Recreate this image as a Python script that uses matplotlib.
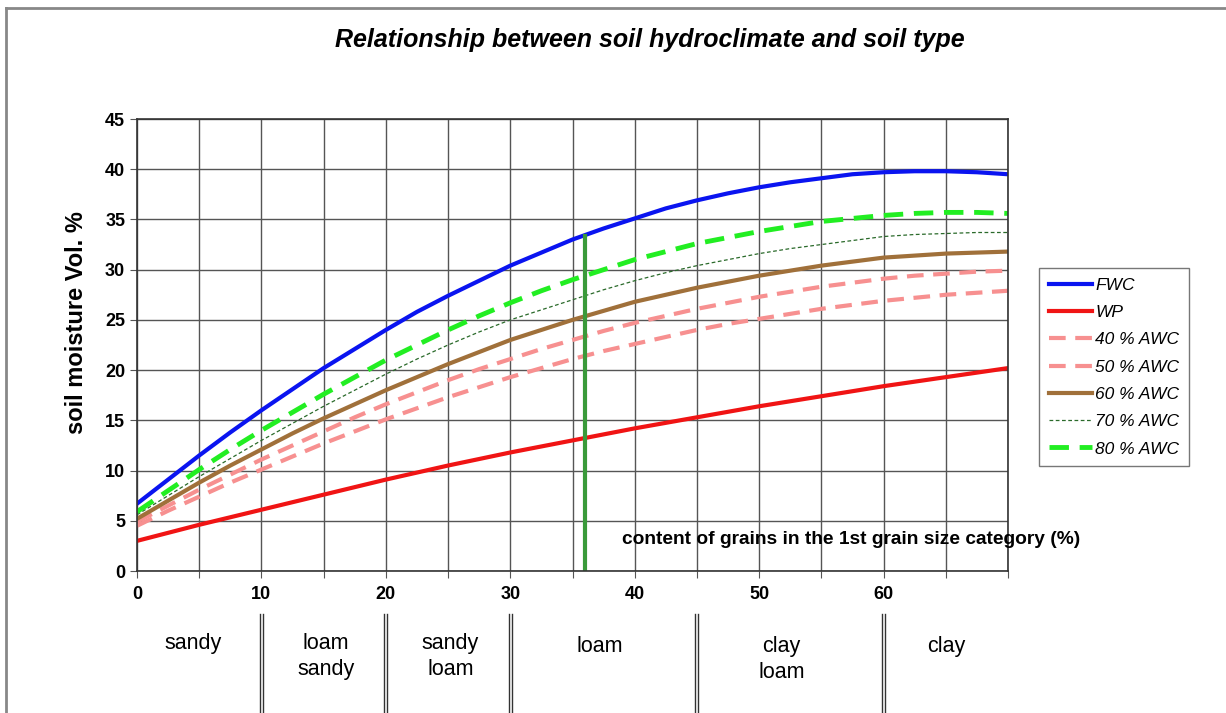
import matplotlib
matplotlib.use("Agg")
import matplotlib.pyplot as plt
from matplotlib.lines import Line2D

plt.rcParams['font.family'] = ['Liberation Sans', 'DejaVu Sans']

grain = [0, 2.5, 5, 7.5, 10, 12.5, 15, 17.5, 20, 22.5, 25, 27.5, 30, 32.5, 35,
         37.5, 40, 42.5, 45, 47.5, 50, 52.5, 55, 57.5, 60, 62.5, 65, 67.5, 70]
fwc = [6.7, 9.1, 11.5, 13.8, 16.0, 18.1, 20.2, 22.1, 24.0, 25.8, 27.4, 28.9, 30.4, 31.7, 33.0,
       34.1, 35.1, 36.1, 36.9, 37.6, 38.2, 38.7, 39.1, 39.5, 39.7, 39.8, 39.8, 39.7, 39.5]
awc80 = [5.9, 8.0, 10.1, 12.1, 14.0, 15.8, 17.6, 19.3, 21.0, 22.5, 24.0, 25.4, 26.7, 27.9, 29.0,
         30.0, 31.0, 31.8, 32.6, 33.2, 33.8, 34.3, 34.8, 35.1, 35.4, 35.6, 35.7, 35.7, 35.6]
awc70 = [5.6, 7.5, 9.4, 11.2, 13.0, 14.7, 16.4, 18.0, 19.6, 21.1, 22.5, 23.8, 25.0, 26.0, 27.0,
         28.0, 28.9, 29.7, 30.4, 31.0, 31.6, 32.1, 32.5, 32.9, 33.3, 33.5, 33.6, 33.7, 33.7]
awc60 = [5.2, 7.0, 8.8, 10.5, 12.1, 13.7, 15.2, 16.6, 18.0, 19.3, 20.6, 21.8, 23.0, 24.0, 25.0,
         25.9, 26.8, 27.5, 28.2, 28.8, 29.4, 29.9, 30.4, 30.8, 31.2, 31.4, 31.6, 31.7, 31.8]
awc50 = [4.9, 6.5, 8.1, 9.6, 11.1, 12.5, 13.9, 15.3, 16.6, 17.8, 19.0, 20.1, 21.1, 22.1, 23.0,
         23.9, 24.7, 25.4, 26.1, 26.7, 27.3, 27.8, 28.3, 28.7, 29.1, 29.4, 29.6, 29.8, 29.9]
awc40 = [4.5, 6.0, 7.4, 8.8, 10.1, 11.4, 12.7, 13.9, 15.1, 16.2, 17.3, 18.3, 19.3, 20.2, 21.1,
         21.9, 22.6, 23.3, 24.0, 24.6, 25.1, 25.6, 26.1, 26.5, 26.9, 27.2, 27.5, 27.7, 27.9]
grain_wp = [0, 5, 10, 15, 20, 25, 30, 35, 40, 45, 50, 55, 60, 65, 70]
wp = [3.0, 4.6, 6.1, 7.6, 9.1, 10.5, 11.8, 13.0, 14.2, 15.3, 16.4, 17.4, 18.4, 19.3, 20.2]

marker_x = 36
marker_top = 33.4

soil_labels = ["sandy", "loam\nsandy", "sandy\nloam", "loam", "clay\nloam", "clay"]
soil_centers = [4.5, 15.2, 25.2, 37.2, 51.8, 65.0]
soil_bounds = [10, 20, 30, 45, 60]

fig = plt.figure(figsize=(12.26, 7.13), dpi=100)
W, H = 1226, 713
ax = fig.add_axes([137 / W, 1 - 571 / H, (1008 - 137) / W, (571 - 119) / H])

ax.set_xlim(0, 70)
ax.set_ylim(0, 45)
ax.set_xticks(range(0, 71, 5))
ax.set_xticklabels([str(v) if v % 10 == 0 and v <= 60 else "" for v in range(0, 71, 5)])
ax.set_yticks(range(0, 46, 5))
ax.grid(True, color="#555555", linewidth=1.0)
ax.set_axisbelow(True)
for s in ax.spines.values():
    s.set_color("#333333")
    s.set_linewidth(1.2)
ax.tick_params(axis='both', direction='out', length=5, color="#555555", labelsize=13)
for lbl in ax.get_xticklabels() + ax.get_yticklabels():
    lbl.set_fontweight('bold')
ax.tick_params(axis='x', pad=6)

ax.plot(grain, fwc, color="#0a14f0", lw=3, label="FWC")
ax.plot(grain_wp, wp, color="#f01414", lw=3, label="WP")
ax.plot(grain, awc40, color="#f79090", lw=3, ls=(0, (4, 2.3)), label="40 % AWC")
ax.plot(grain, awc50, color="#f79090", lw=3, ls=(0, (4, 2.3)), label="50 % AWC")
ax.plot(grain, awc60, color="#a0703a", lw=3, label="60 % AWC")
ax.plot(grain, awc70, color="#2a6a2a", lw=0.9, ls=(0, (3, 2)), label="70 % AWC")
ax.plot(grain, awc80, color="#22ee22", lw=3.5, ls=(0, (4, 2.2)), label="80 % AWC")

ax.plot([marker_x, marker_x], [0, marker_top], color="#3a9a3a", lw=3)

ax.text(39.0, 3.1, "content of grains in the 1st grain size category (%)",
        fontsize=13.8, fontweight='bold', va='center', ha='left')

ax.set_ylabel("soil moisture Vol. %", fontsize=17, fontweight='bold')
ax.yaxis.set_label_coords(-0.056, 0.55)

leg = ax.legend(loc='upper left', bbox_to_anchor=(1039 / W, 1 - 268 / H),
                bbox_transform=fig.transFigure, frameon=True, fancybox=False,
                borderaxespad=0.0,
                prop={'style': 'italic', 'size': 12.5}, handlelength=2.5,
                handletextpad=0.2, labelspacing=0.7, borderpad=0.55)
leg.get_frame().set_edgecolor("#555555")
leg.get_frame().set_linewidth(1.0)

fig.text(650 / W, 1 - 40 / H, "Relationship between soil hydroclimate and soil type",
         ha='center', va='center', fontsize=18, fontweight='bold', style='italic')

# soil type band below axis
for xb in soil_bounds:
    xf = ax.transData.transform((xb, 0))[0] / W
    for dx in (-1.5, 1.5):
        fig.add_artist(Line2D([xf + dx / W, xf + dx / W], [0, 1 - 614 / H],
                              color="#333333", lw=1.0, transform=fig.transFigure))
for i, (lab, c) in enumerate(zip(soil_labels, soil_centers)):
    xf = ax.transData.transform((c, 0))[0] / W
    ytop = 633 if i < 3 else 636
    fig.text(xf, 1 - ytop / H, lab, ha='center', va='top', fontsize=15.5, linespacing=1.32)

# outer frame
fig.add_artist(Line2D([6 / W, 6 / W], [0, 1 - 8 / H], color="#888888", lw=2, transform=fig.transFigure))
fig.add_artist(Line2D([6 / W, 1], [1 - 8 / H, 1 - 8 / H], color="#888888", lw=2, transform=fig.transFigure))

fig.savefig("out.png", dpi=100)
